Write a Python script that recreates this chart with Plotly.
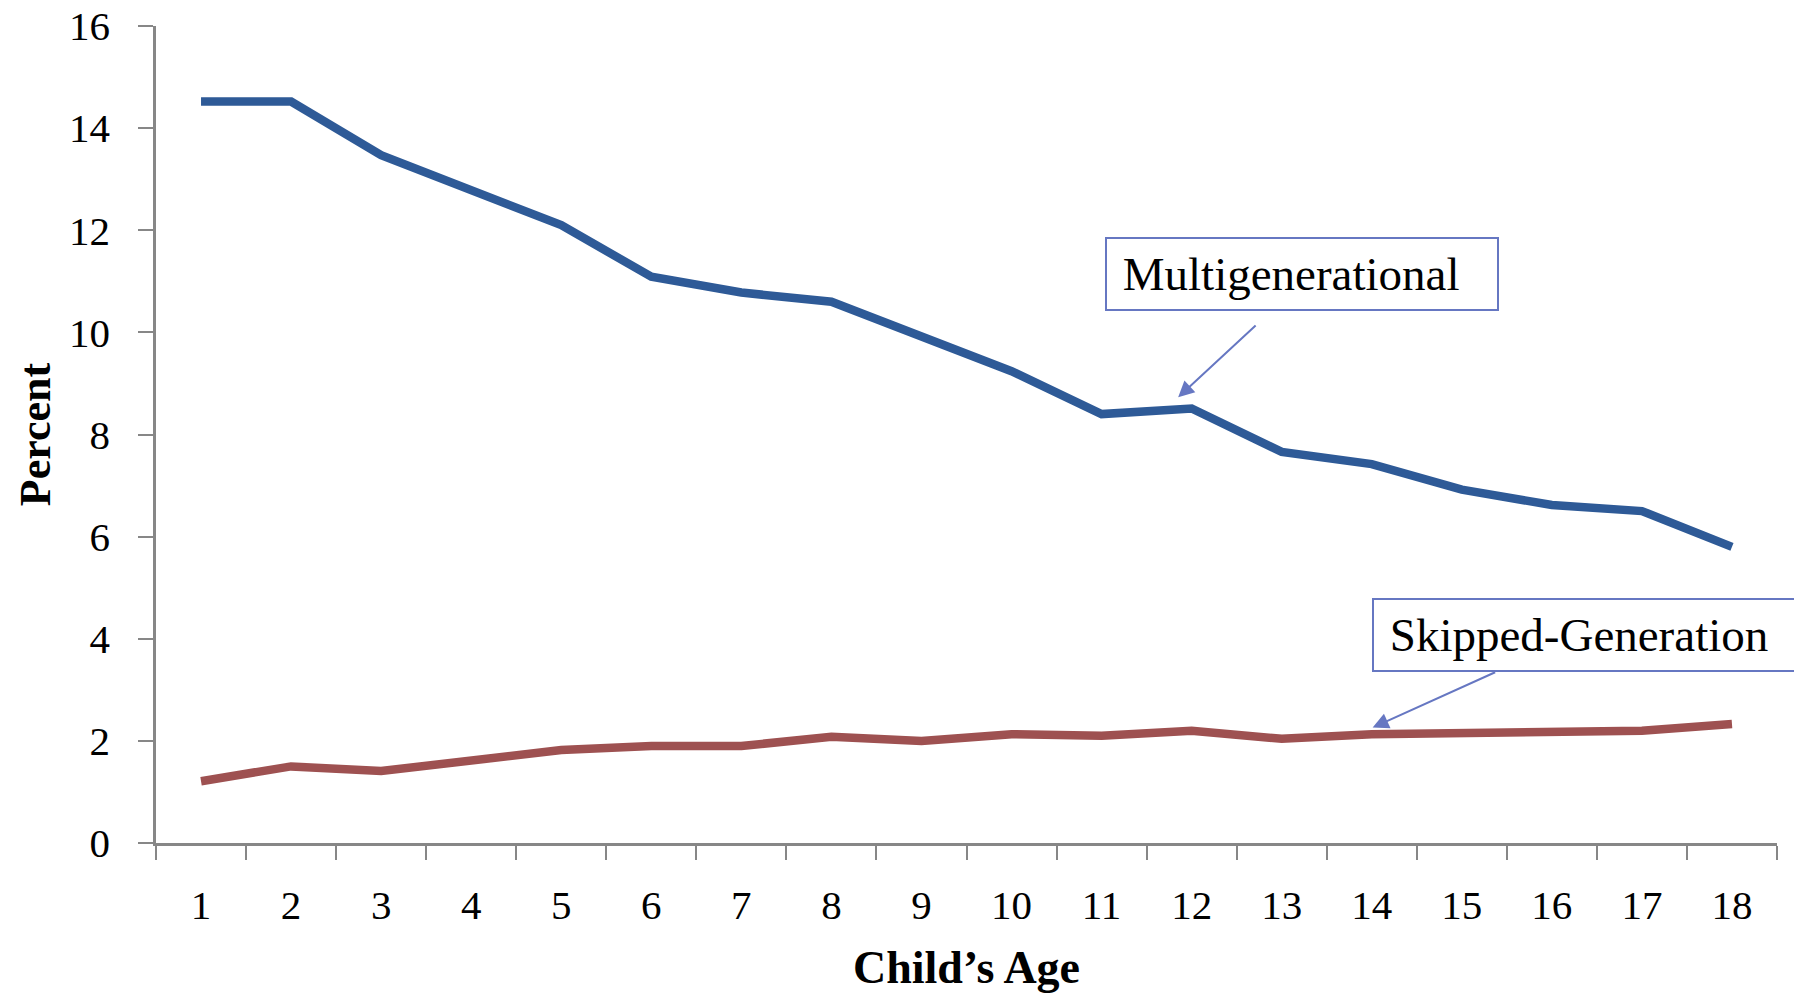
import plotly.graph_objects as go

ages = [str(i) for i in range(1, 19)]
multigenerational = [14.52, 14.52, 13.47, 12.8, 12.1, 11.09, 10.78, 10.6, 9.93,
                     9.24, 8.4, 8.51, 7.66, 7.42, 6.92, 6.62, 6.5, 5.8]
skipped_generation = [1.21, 1.5, 1.41, 1.61, 1.82, 1.9, 1.9, 2.08, 2.0,
                      2.13, 2.1, 2.2, 2.04, 2.13, 2.15, 2.15, 2.2, 2.33]
y_ticks = list(range(0, 17, 2))

FONT = "Liberation Serif"
AXIS_GRAY = "#878787"
BLUE = "#2E5A97"
RED = "#9E5151"
BOX = "#6677C2"

fig = go.Figure()
fig.add_trace(go.Scatter(x=ages, y=multigenerational, mode="lines",
                         line=dict(color=BLUE, width=8.5), name="Multigenerational",
                         showlegend=False))
fig.add_trace(go.Scatter(x=ages, y=skipped_generation, mode="lines",
                         line=dict(color=RED, width=8.5), name="Skipped-Generation",
                         showlegend=False))

fig.update_layout(
    width=1794, height=993,
    margin=dict(l=156, r=17, t=26, b=150),
    paper_bgcolor="white", plot_bgcolor="white",
    font=dict(family=FONT, color="black", size=41),
)
fig.update_xaxes(
    type="category", range=[-0.5, 17.5], tickson="boundaries", automargin=False,
    ticks="outside", ticklen=14, tickwidth=2, tickcolor=AXIS_GRAY,
    showline=True, linecolor=AXIS_GRAY, linewidth=2.5, showgrid=False,
    zeroline=False, tickfont=dict(family=FONT, size=41),
    ticklabelstandoff=24,
    title=dict(text="<b>Child’s Age</b>", font=dict(family=FONT, size=46), standoff=30),
)
fig.update_yaxes(
    range=[0, 16], tickvals=y_ticks, ticks="outside", ticklen=15, tickwidth=2,
    automargin=False,
    tickcolor=AXIS_GRAY, showline=True, linecolor=AXIS_GRAY, linewidth=2.5,
    showgrid=False, zeroline=False, tickfont=dict(family=FONT, size=41),
    ticklabelstandoff=20,
    title=dict(text="<b>Percent</b>", font=dict(family=FONT, size=44), standoff=5),
)

# text boxes
fig.add_annotation(xref="paper", yref="paper", x=0.5855, y=0.7417,
                   xanchor="left", yanchor="top", text="\u00a0Multigenerational",
                   showarrow=False, align="left", valign="middle", width=382, height=62,
                   borderpad=4, bordercolor=BOX, borderwidth=2, bgcolor="white",
                   font=dict(family=FONT, size=47))
fig.add_annotation(xref="paper", yref="paper", x=0.7502, y=0.2999,
                   xanchor="left", yanchor="top", text="\u00a0Skipped-Generation",
                   showarrow=False, align="left", valign="middle", width=440, height=62,
                   borderpad=4, bordercolor=BOX, borderwidth=2, bgcolor="white",
                   font=dict(family=FONT, size=47))
# arrows
fig.add_annotation(x=10.85, y=8.73, xref="x", yref="y", text="", showarrow=True,
                   ax=79, ay=-73, arrowhead=2, arrowsize=1.6, arrowwidth=2,
                   arrowcolor=BOX)
fig.add_annotation(x=13.01, y=2.26, xref="x", yref="y", text="", showarrow=True,
                   ax=124, ay=-56, arrowhead=2, arrowsize=1.6, arrowwidth=2,
                   arrowcolor=BOX)

fig.write_html("out.html")
